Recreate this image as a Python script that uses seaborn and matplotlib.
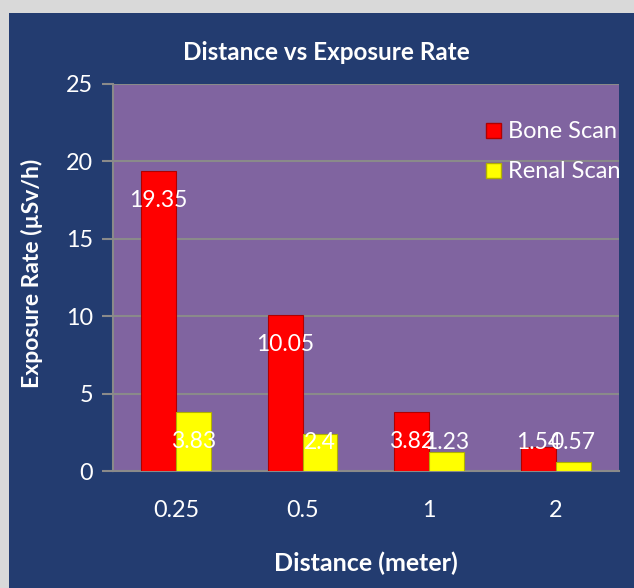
import matplotlib
matplotlib.use("Agg")
import matplotlib.pyplot as plt
import matplotlib.patches as mpatches
import seaborn as sns
import pandas as pd

distances = ["0.25", "0.5", "1", "2"]
bone_scan = [19.35, 10.05, 3.82, 1.54]
renal_scan = [3.83, 2.4, 1.23, 0.57]
bone_labels = ["19.35", "10.05", "3.82", "1.54"]
renal_labels = ["3.83", "2.4", "1.23", "0.57"]
series_names = ["Bone Scan", "Renal Scan"]
yticks = [0, 5, 10, 15, 20, 25]

df = pd.DataFrame({
    "Distance": distances * 2,
    "Rate": bone_scan + renal_scan,
    "Series": [series_names[0]] * 4 + [series_names[1]] * 4,
    "Label": bone_labels + renal_labels,
})

sns.set_theme(style="white")
plt.rcParams["font.family"] = ["Lato", "DejaVu Sans"]

W, H = 634, 588
fig = plt.figure(figsize=(W / 100, H / 100), dpi=100)
fig.patch.set_facecolor("#d9d9d9")
bg = mpatches.Rectangle((9 / W, 0), 1, 1 - 13 / H, transform=fig.transFigure,
                        facecolor="#233c70", edgecolor="none", zorder=-10)
fig.add_artist(bg)

ax_h = 471 - 84
ax_w = 619 - 112.7
ax = fig.add_axes([112.7 / W, 1 - 471 / H, ax_w / W, ax_h / H])
ax.set_facecolor("#8064a0")

palette = {"Bone Scan": "#ff0000", "Renal Scan": "#ffff00"}
sns.barplot(data=df, x="Distance", y="Rate", hue="Series", palette=palette,
            width=0.55, ax=ax, saturation=1, zorder=3)

edge = {"Bone Scan": "#b00000", "Renal Scan": "#b0b000"}
for container, name in zip(ax.containers, series_names):
    for bar in container:
        bar.set_edgecolor(edge[name])
        bar.set_linewidth(0.8)

# data labels
for container, name in zip(ax.containers, series_names):
    sub = df[df["Series"] == name]
    for bar, val, lab in zip(container, sub["Rate"], sub["Label"]):
        cx = bar.get_x() + bar.get_width() / 2
        ax.text(cx, max(val - 1.9, 1.82), lab, ha="center", va="center",
                color="white", fontsize=16.5, zorder=5)

ax.set_ylim(0, 25)
ax.set_yticks(yticks)
ax.set_yticklabels([str(t) for t in yticks])
ax.grid(axis="y", color="#8a8a8a", linewidth=1.5, zorder=1)
ax.set_axisbelow(True)
for s in ["top", "right"]:
    ax.spines[s].set_visible(False)
for s in ["left", "bottom"]:
    ax.spines[s].set_color("#8a8a8a")
    ax.spines[s].set_linewidth(1.5)
ax.tick_params(axis="y", colors="#8a8a8a", length=8, width=1.5, labelcolor="white",
               labelsize=16.8, pad=6, left=True)
ax.tick_params(axis="x", length=0, labelcolor="white", labelsize=16.8, pad=21)

ax.set_xlabel("Distance (meter)", color="white", fontsize=18, fontweight="bold")
ax.xaxis.set_label_coords((365.5 - 112.7) / ax_w, (471 - 563) / ax_h)
ax.xaxis.label.set_va("center")
ax.set_ylabel("Exposure Rate (µSv/h)", color="white", fontsize=16.5, fontweight="bold")
ax.yaxis.set_label_coords((32 - 112.7) / ax_w, (471 - 273) / ax_h)
ax.yaxis.label.set_va("center")
fig.text(326 / W, 1 - 52 / H, "Distance vs Exposure Rate", color="white", fontsize=17.5,
         fontweight="bold", ha="center", va="center")

handles, labels = ax.get_legend_handles_labels()
leg = ax.legend(handles, labels, loc="upper left",
                bbox_to_anchor=((477 - 112.7) / ax_w, 1 - (112 - 84) / ax_h),
                frameon=False, labelcolor="white", fontsize=17, handlelength=0.6,
                handleheight=0.6, handletextpad=0.3, labelspacing=0.8, borderaxespad=0)
for h, name in zip(leg.legend_handles, series_names):
    h.set_edgecolor(edge[name])

fig.savefig("out.png", dpi=100, facecolor=fig.get_facecolor())
